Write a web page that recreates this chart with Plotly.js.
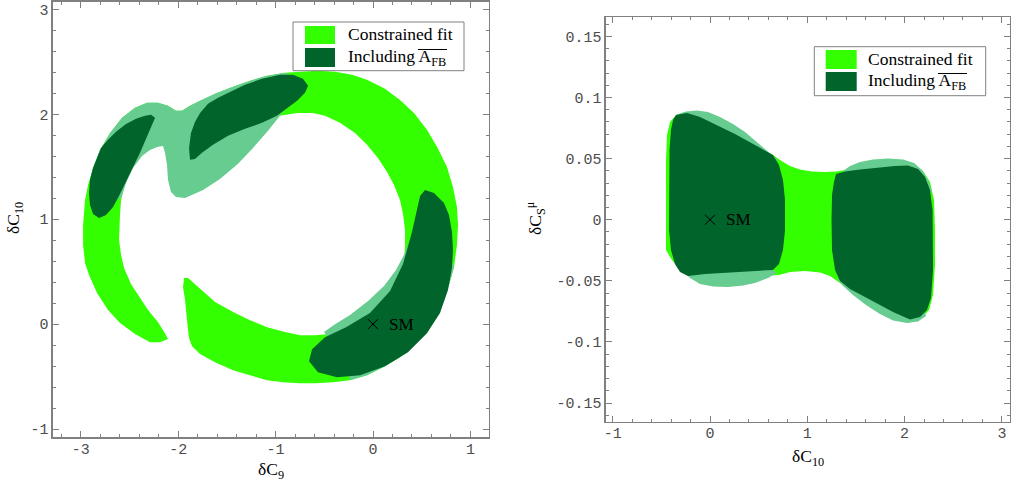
<!DOCTYPE html>
<html><head><meta charset="utf-8">
<script src="https://cdn.plot.ly/plotly-3.0.1.min.js"></script>
<style>html,body{margin:0;padding:0;background:#fff}#chart{width:1021px;height:484px}</style>
</head><body><div id="chart"></div>
<script>
// ---------- Left panel (dC9 vs dC10) ----------
const ringX = [-2.105,-2.187,-2.290,-2.444,-2.598,-2.721,-2.834,-2.916,-2.957,-2.977,-2.977,-2.957,-2.926,-2.875,-2.803,-2.700,-2.577,-2.444,-2.320,-2.207,-2.105,-2.023,-1.961,-1.879,-1.776,-1.622,-1.437,-1.263,-1.088,-0.903,-0.749,-0.565,-0.390,-0.216,-0.062,0.123,0.277,0.421,0.554,0.657,0.760,0.821,0.862,0.873,0.862,0.832,0.780,0.719,0.637,0.554,0.421,0.277,0.103,-0.062,-0.236,-0.411,-0.595,-0.749,-0.924,-1.088,-1.263,-1.437,-1.622,-1.776,-1.858,-1.889,-1.910,-1.930,-1.951,-1.940,
 -1.899,-1.828,-1.725,-1.622,-1.437,-1.263,-1.088,-0.903,-0.749,-0.595,-0.441,-0.287,-0.133,0,0.123,0.216,0.277,0.318,0.329,0.329,0.308,0.277,0.216,0.144,0.051,-0.062,-0.185,-0.339,-0.493,-0.616,-0.780,-0.955,
 -1.160,-1.417,-1.674,-1.879,-2.033,-2.156,-2.310,-2.464,-2.536,-2.587,-2.598,-2.608,-2.587,-2.556,-2.485,-2.392,-2.310,-2.207,-2.136];
const ringY = [-0.143,-0.172,-0.172,-0.095,0.010,0.134,0.296,0.468,0.582,0.754,0.945,1.184,1.327,1.489,1.661,1.823,1.967,2.062,2.110,2.110,2.081,2.034,2.034,2.081,2.129,2.196,2.263,2.320,2.368,2.396,2.406,2.415,2.406,2.377,2.329,2.243,2.138,2.014,1.852,1.690,1.499,1.308,1.117,0.945,0.754,0.544,0.372,0.229,0.076,-0.057,-0.200,-0.315,-0.411,-0.487,-0.535,-0.554,-0.563,-0.563,-0.554,-0.535,-0.487,-0.439,-0.363,-0.286,-0.210,-0.134,0.038,0.229,0.353,0.439,
 0.439,0.382,0.296,0.210,0.115,0.038,-0.029,-0.076,-0.105,-0.105,-0.095,-0.057,0,0.067,0.181,0.305,0.439,0.592,0.754,0.897,1.050,1.184,1.327,1.451,1.585,1.709,1.823,1.919,1.986,2.014,2.014,1.986,
 1.871,1.757,1.642,1.518,1.661,1.776,1.709,1.537,1.375,1.184,1.041,0.802,0.659,0.535,0.382,0.248,0.134,0.019,-0.086];

const hazeUpX = [-2.895,-2.875,-2.803,-2.700,-2.577,-2.444,-2.320,-2.207,-2.105,-2.023,-1.961,-1.879,-1.776,-1.622,-1.437,-1.263,-1.088,-0.903,-0.801,-0.852,-0.955,-1.078,-1.232,-1.386,-1.571,-1.745,-1.930,-2.023,-2.074,-2.105,-2.115,-2.136,-2.156,-2.207,-2.290,-2.372,-2.464,-2.536,-2.587,-2.803,-2.885];
const hazeUpY = [1.422,1.489,1.661,1.823,1.967,2.062,2.110,2.110,2.081,2.034,2.034,2.081,2.129,2.196,2.263,2.320,2.368,2.396,2.349,2.138,1.986,1.843,1.680,1.528,1.384,1.279,1.203,1.212,1.260,1.375,1.518,1.633,1.699,1.690,1.661,1.604,1.489,1.346,1.203,1.136,1.279];

const hazeLowX = [0.483,0.380,0.318,0.236,0.113,-0.051,-0.236,-0.390,-0.503,-0.441,-0.287,-0.236,-0.062,0.103,0.277,0.421,0.554,0.637,0.719,0.780,0.832,0.770,0.688];
const hazeLowY = [0.945,0.802,0.659,0.516,0.363,0.220,0.086,0,-0.076,-0.153,-0.344,-0.535,-0.487,-0.411,-0.315,-0.200,-0.057,0.076,0.229,0.372,0.544,0.706,0.945];

const afbAX = [-2.238,-2.269,-2.320,-2.392,-2.464,-2.536,-2.608,-2.669,-2.741,-2.813,-2.875,-2.906,-2.916,-2.906,-2.875,-2.830,-2.793,-2.721,-2.639,-2.536,-2.433,-2.341,-2.279];
const afbAY = [1.967,1.900,1.785,1.633,1.499,1.356,1.222,1.117,1.041,1.012,1.050,1.136,1.251,1.375,1.489,1.594,1.680,1.757,1.833,1.909,1.957,1.986,1.995];

const afbBX = [-1.879,-1.889,-1.869,-1.828,-1.776,-1.694,-1.591,-1.468,-1.314,-1.140,-0.955,-0.821,-0.719,-0.667,-0.698,-0.780,-0.873,-0.986,-1.140,-1.314,-1.489,-1.643,-1.756,-1.828];
const afbBY = [1.566,1.680,1.823,1.928,2.014,2.100,2.158,2.215,2.282,2.339,2.377,2.377,2.339,2.272,2.205,2.129,2.062,1.986,1.919,1.862,1.795,1.709,1.633,1.575];

const afbCX = [0.534,0.626,0.729,0.780,0.811,0.821,0.811,0.770,0.688,0.554,0.359,0.123,-0.133,-0.370,-0.565,-0.657,-0.626,-0.493,-0.277,-0.031,0.175,0.308,0.400,0.462,0.483];
const afbCY = [1.279,1.251,1.155,1.041,0.878,0.706,0.535,0.325,0.105,-0.086,-0.267,-0.401,-0.487,-0.506,-0.458,-0.353,-0.239,-0.124,-0.029,0.105,0.315,0.573,0.878,1.117,1.222];

// ---------- Right panel (dC10 vs dCS^mu) ----------
const tieX = [-0.452,-0.452,-0.452,-0.442,-0.411,-0.349,-0.257,0,0.308,0.647,0.719,0.822,0.925,1.048,1.182,1.295,1.387,1.747,2.056,2.189,2.261,2.302,2.312,2.312,2.292,2.251,2.179,2.004,1.747,1.490,1.336,1.233,1.131,0.976,0.822,0.709,0.514,0.103,-0.206,-0.308,-0.391];
const tieY = [-0.0248,0.0022,0.0488,0.0693,0.0799,0.0856,0.0881,0.0799,0.0685,0.0529,0.0488,0.0439,0.0411,0.0394,0.0390,0.0394,0.0407,0.0447,0.0456,0.0398,0.0308,0.0161,-0.0084,-0.0371,-0.0616,-0.0739,-0.0804,-0.0804,-0.0698,-0.0591,-0.0518,-0.0461,-0.0432,-0.0420,-0.0428,-0.0452,-0.0461,-0.0469,-0.0461,-0.0411,-0.0330];

const hazeLX = [-0.349,-0.247,-0.134,-0.021,0.103,0.236,0.360,0.473,0.565,0.647,0.689,0.617,0.617,0.689,0.596,0.462,0.339,0.185,0.031,-0.103,-0.206,-0.277,-0.206,-0.257];
const hazeLY = [0.0856,0.0885,0.0893,0.0881,0.0840,0.0783,0.0717,0.0644,0.0578,0.0521,0.0488,0.0161,-0.0395,-0.0436,-0.0477,-0.0518,-0.0538,-0.0551,-0.0546,-0.0526,-0.0477,-0.0420,0.0161,0.0775];

const hazeRX = [1.367,1.439,1.542,1.675,1.829,1.984,2.097,2.179,2.240,2.282,2.158,2.158,2.220,2.138,2.025,1.881,1.747,1.603,1.470,1.367,1.316,1.387,1.387];
const hazeRY = [0.0398,0.0439,0.0472,0.0492,0.0501,0.0492,0.0464,0.0407,0.0325,0.0227,0.0161,-0.0657,-0.0788,-0.0833,-0.0845,-0.0825,-0.0771,-0.0698,-0.0616,-0.0542,-0.0493,-0.0248,0.0243];

const afbLX = [-0.349,-0.236,-0.103,0.051,0.257,0.462,0.647,0.709,0.750,0.771,0.771,0.750,0.709,0.647,0.462,0.206,-0.051,-0.226,-0.308,-0.360,-0.401,-0.421,-0.421,-0.416,-0.401,-0.380];
const afbLY = [0.0856,0.0873,0.0840,0.0783,0.0701,0.0611,0.0529,0.0447,0.0325,0.0161,-0.0084,-0.0248,-0.0362,-0.0411,-0.0420,-0.0432,-0.0444,-0.0461,-0.0428,-0.0362,-0.0248,-0.0084,0.0243,0.0570,0.0734,0.0816];

const afbRX = [1.295,1.387,1.542,1.716,1.901,2.035,2.138,2.210,2.261,2.287,2.292,2.292,2.271,2.230,2.158,2.056,1.881,1.644,1.439,1.336,1.285,1.254,1.249,1.254,1.274];
const afbRY = [0.0374,0.0394,0.0411,0.0427,0.0439,0.0443,0.0415,0.0349,0.0243,0.0079,-0.0166,-0.0411,-0.0641,-0.0739,-0.0796,-0.0816,-0.0755,-0.0657,-0.0567,-0.0501,-0.0411,-0.0248,-0.0002,0.0202,0.0308];

// SM point
const smX = [0], smY = [0], smText = ['SM'];

// Ticks
const tickL_x = [-3,-2,-1,0,1], tickL_xText = ['-3','-2','-1','0','1'];
const tickL_y = [-1,0,1,2,3], tickL_yText = ['-1','0','1','2','3'];
const tickR_x = [-1,0,1,2,3], tickR_xText = ['-1','0','1','2','3'];
const tickR_y = [-0.15,-0.1,-0.05,0,0.05,0.1,0.15], tickR_yText = ['-0.15','-0.1','-0.05','0','0.05','0.1','0.15'];

// Legend labels
const legendLabels = ['Constrained fit', 'Including A<sub>FB</sub>'];

const BRIGHT = '#33ff00', HAZE = '#66cc8f', DARK = '#00642b';
const FRAME = '#808080';

function poly(x, y, color, xa, ya) {
  return {type:'scatter', mode:'lines', x:x, y:y, fill:'toself', fillcolor:color,
    line:{width:0, color:color}, hoverinfo:'skip', showlegend:false, xaxis:xa, yaxis:ya};
}
function smMark(xa, ya) {
  return {type:'scatter', mode:'markers', x:smX, y:smY,
    marker:{symbol:'x-thin', size:10, line:{width:1, color:'#000'}, color:'#000'},
    hoverinfo:'skip', showlegend:false, xaxis:xa, yaxis:ya};
}
function smLabel(xa, ya) {
  return {xref:xa, yref:ya, x:smX[0], y:smY[0], text:smText[0], showarrow:false, xanchor:'left', yanchor:'middle',
    xshift:14, font:{family:'Liberation Serif', size:17, color:'#000'}};
}

const data = [
  poly(ringX, ringY, BRIGHT, 'x', 'y'),
  poly(hazeUpX, hazeUpY, HAZE, 'x', 'y'),
  poly(hazeLowX, hazeLowY, HAZE, 'x', 'y'),
  poly(afbAX, afbAY, DARK, 'x', 'y'),
  poly(afbBX, afbBY, DARK, 'x', 'y'),
  poly(afbCX, afbCY, DARK, 'x', 'y'),
  smMark('x', 'y'),
  poly(tieX, tieY, BRIGHT, 'x2', 'y2'),
  poly(hazeLX, hazeLY, HAZE, 'x2', 'y2'),
  poly(hazeRX, hazeRY, HAZE, 'x2', 'y2'),
  poly(afbLX, afbLY, DARK, 'x2', 'y2'),
  poly(afbRX, afbRY, DARK, 'x2', 'y2'),
  smMark('x2', 'y2')
];

function axis(domain, range, vals, text, minorD, anchor, standoff) {
  return {domain:domain, range:range, anchor:anchor, tickmode:'array', tickvals:vals, ticktext:text,
    ticks:'inside', ticklen:6, tickwidth:1, tickcolor:FRAME, showline:true, linecolor:FRAME, linewidth:1.3,
    mirror:'allticks', showgrid:false, zeroline:false, fixedrange:true, ticklabelstandoff:standoff,
    tickfont:{family:'Liberation Mono', size:15, color:'#4d4d4d'},
    minor:{tickmode:'linear', tick0:0, dtick:minorD, ticks:'inside', ticklen:3, tickwidth:1, tickcolor:FRAME, showgrid:false}};
}

const W = 1021, H = 484;
const px = v => v / W, py = v => 1 - v / H;

function legend(x0, y0, x1, y1, sx0, sx1, s1y0, s1y1, s2y0, s2y1, tx, t1y, t2y, ox0, ox1, oy) {
  const shapes = [
    {type:'rect', xref:'paper', yref:'paper', x0:px(x0), x1:px(x1), y0:py(y1), y1:py(y0), line:{color:FRAME, width:1}, fillcolor:'#fff'},
    {type:'rect', xref:'paper', yref:'paper', x0:px(sx0), x1:px(sx1), y0:py(s1y1), y1:py(s1y0), line:{width:0}, fillcolor:BRIGHT},
    {type:'rect', xref:'paper', yref:'paper', x0:px(sx0), x1:px(sx1), y0:py(s2y1), y1:py(s2y0), line:{width:0}, fillcolor:DARK},
    // overline over A_FB
    {type:'line', xref:'paper', yref:'paper', x0:px(ox0), x1:px(ox1), y0:py(oy), y1:py(oy), line:{color:'#000', width:1}}
  ];
  const f = {family:'Liberation Serif', size:17.5, color:'#000'};
  const ann = [
    {xref:'paper', yref:'paper', x:px(tx), y:py(t1y), text:legendLabels[0], showarrow:false, xanchor:'left', yanchor:'middle', font:f},
    {xref:'paper', yref:'paper', x:px(tx), y:py(t2y), text:legendLabels[1], showarrow:false, xanchor:'left', yanchor:'middle', font:f}
  ];
  return {shapes, ann};
}
const lg1 = legend(293, 22, 464, 70.7, 305, 335, 26, 44, 48, 67, 346, 34, 57.5, 418, 447, 49.5);
const lg2 = legend(814.3, 46.7, 985.7, 95.7, 825.7, 856.7, 50, 69, 72, 91, 866, 59, 81.5, 938, 967, 73.5);

const tf = {family:'Liberation Serif', size:17.5, color:'#000'};
const titles = [
  {xref:'paper', yref:'paper', x:px(270.8), y:py(470), text:'δC<sub>9</sub>', showarrow:false, xanchor:'center', yanchor:'middle', font:tf},
  {xref:'paper', yref:'paper', x:px(15), y:py(218), text:'δC<sub>10</sub>', showarrow:false, textangle:-90, xanchor:'center', yanchor:'middle', font:tf},
  {xref:'paper', yref:'paper', x:px(807.7), y:py(457), text:'δC<sub>10</sub>', showarrow:false, xanchor:'center', yanchor:'middle', font:tf},
  {xref:'paper', yref:'paper', x:px(536), y:py(218), text:'δC<sub>S</sub><sup>μ</sup>', showarrow:false, textangle:-90, xanchor:'center', yanchor:'middle', font:tf}
];

const layout = {
  width:W, height:H, margin:{l:0, r:0, t:0, b:0}, paper_bgcolor:'#fff', plot_bgcolor:'#fff',
  showlegend:false,
  xaxis: axis([px(52.7), px(489)], [-3.289, 1.191], tickL_x, tickL_xText, 0.2, 'y', -3),
  yaxis: axis([py(437.3), py(1.7)], [-1.079, 3.074], tickL_y, tickL_yText, 0.2, 'x', 0),
  xaxis2: axis([px(605.7), px(1009.7)], [-1.072, 3.080], tickR_x, tickR_xText, 0.2, 'y2', -3),
  yaxis2: axis([py(421.7), py(17.3)], [-0.1653, 0.1656], tickR_y, tickR_yText, 0.01, 'x2', 0),
  shapes: lg1.shapes.concat(lg2.shapes),
  annotations: lg1.ann.concat(lg2.ann, titles, [smLabel('x', 'y'), smLabel('x2', 'y2')])
};

Plotly.newPlot('chart', data, layout, {displayModeBar:false, staticPlot:true});
</script></body></html>
